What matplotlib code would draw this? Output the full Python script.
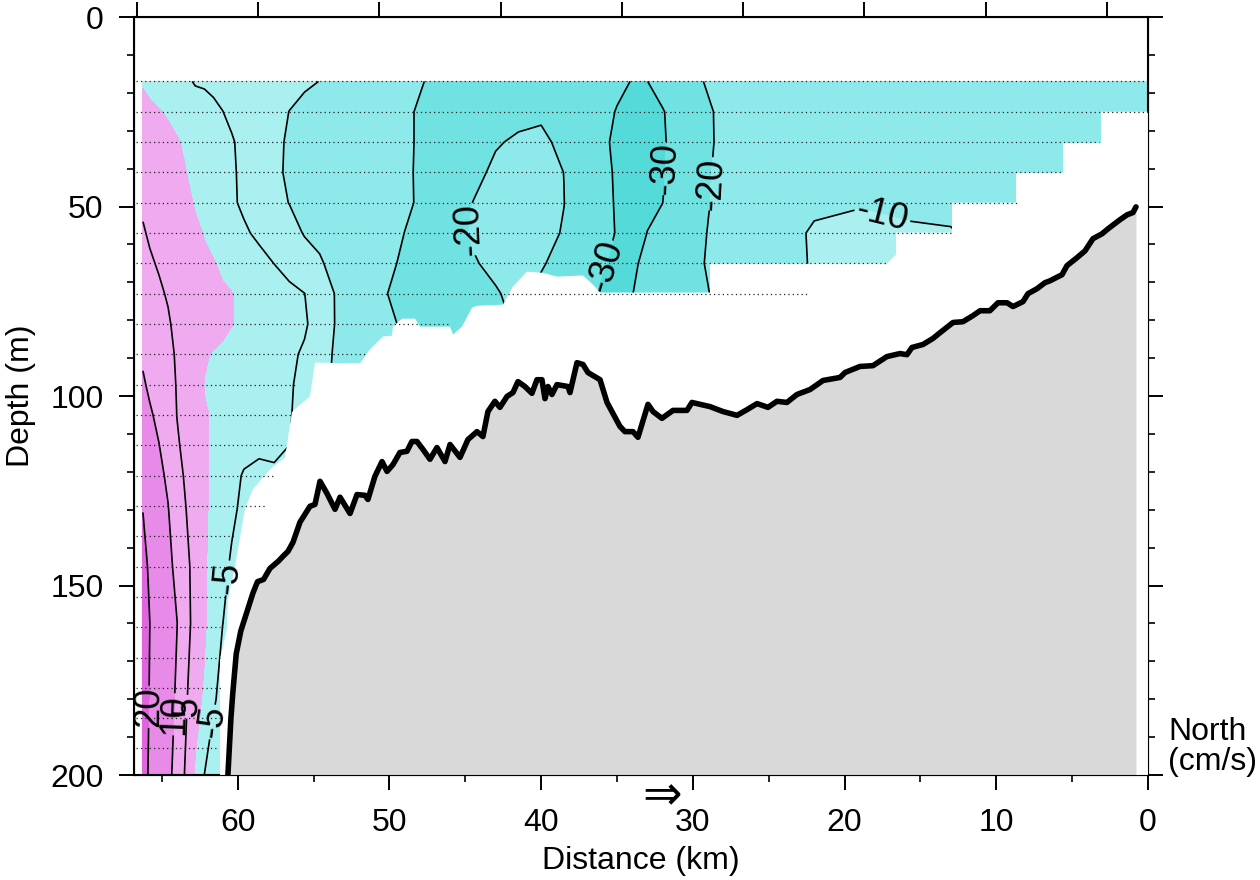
import numpy as np
import matplotlib
matplotlib.use("Agg")
import matplotlib.pyplot as plt
import matplotlib.transforms as mtransforms

plt.rcParams['font.family'] = ['Liberation Sans', 'DejaVu Sans']

# ADCP section: northward velocity (cm/s), one profile per station
depth_rows = [17, 25, 33, 41, 49, 57, 65, 73, 81, 89, 97, 105, 113, 121, 130, 145, 160, 180, 200]

station_km = [66.25, 65.8, 65.2, 64.6, 64.0, 63.4, 62.8, 62.2, 61.6, 61.0, 60.4, 59.6,
              58.6, 57.6, 56.6, 55.6, 54.6, 53.4, 52.0, 50.5, 49.0, 47.5, 46.0, 44.5,
              43.0, 41.5, 40.0, 38.5, 37.0, 36.0, 35.0, 34.0, 33.0, 32.0, 31.0, 29.5,
              28.0, 25.0, 22.0, 19.0, 16.0, 13.0, 10.0, 6.0, 3.0, 0.0]

north_profiles = [
    [-0.3, 1, 2, 3.3, 4.5, 5.3, 6, 7, 8, 9.4, 10.5, 12, 14, 17, 19.9, 22, 23, 24, 24],
    [-0.8, 0.6, 1.8, 2.8, 3.8, 4.6, 5.4, 6.3, 7.2, 8.2, 9.3, 10.5, 12, 14, 16, 19, 20.05, 19.5, 18.5],
    [-1.7, 0.2, 1.5, 2.4, 3.2, 3.9, 4.7, 5.5, 6.4, 7.3, 8.2, 9.1, 10.1, 11, 12, 13.5, 14.5, 15, 15],
    [-2.7, -0.4, 1.0, 1.8, 2.6, 3.3, 4.0, 4.7, 5.4, 6.1, 6.8, 7.5, 8.3, 9.3, 10.2, 11, 11.5, 11.6, 11.2],
    [-3.6, -1.15, 0.3, 1.2, 2.0, 2.6, 3.2, 3.7, 4.1, 4.5, 4.7, 4.9, 5.5, 6.3, 7.5, 9.0, 10.05, 9.4, 8.3],
    [-4.2, -1.9, -0.55, 0.05, 0.8, 1.4, 1.9, 2.3, 2.6, 2.8, 3.0, 3.3, 3.8, 4.4, 5.0, 6.0, 6.2, 5.5, 4.2],
    [-5.4, -2.7, -1.4, -0.85, -0.3, 0.6, 1.2, 1.6, 1.8, 1.9, 2.0, 2.1, 2.2, 2.4, 2.7, 3.5, 3.7, 1.4, -0.5],
    [-5.5, -3.5, -2.2, -1.8, -1.35, -0.15, 0.5, 1.3, 1.2, 0.3, -0.1, 0.2, 0.5, 0.6, 0.6, 0.5, 0.6, -0.6, -5.05],
    [-5.9, -4.2, -3.05, -2.7, -2.4, -1.1, 0.2, 0.9, 1.2, -0.2, -0.4, -0.2, -0.5, -0.7, -0.9, -1.5, -2.25, -4.4, -7.5],
    [-6.2, -4.95, -3.9, -3.6, -3.4, -2.1, -0.55, 0.4, 0.7, -0.55, -0.8, -1.0, -1.1, -1.8, -2.6, -3.8, -4.95, -6.5, -9.0],
    [-6.6, -5.7, -4.7, -4.5, -4.4, -3.1, -1.3, 0.1, 0.1, -1.05, -1.3, -1.4, -2.0, -3.2, -4.2, -5.6, -6.3, -7.0],
    [-7.1, -6.6, -5.9, -5.8, -5.7, -4.4, -2.4, -0.8, -0.6, -1.8, -2.2, -2.6, -3.1, -5.5, -6.0, -6.5, -7.0],
    [-7.6, -7.7, -7.5, -7.5, -7.2, -5.8, -3.7, -1.9, -1.6, -2.6, -3.0, -3.3, -4.6, -5.5, -6.0, -6.0],
    [-8.2, -8.8, -9.1, -9.2, -8.7, -7.1, -5.05, -2.9, -2.6, -3.5, -3.8, -4.0, -4.6, -5.3, -5.5],
    [-8.8, -10.05, -10.5, -10.6, -10.1, -8.3, -6.5, -4.0, -3.6, -4.3, -4.7, -4.8, -5.0, -5.2],
    [-9.4, -11.1, -11.6, -11.7, -11.3, -10.3, -7.9, -4.95, -4.5, -5.5, -5.8, -6.0, -6.2],
    [-10.05, -12.4, -12.8, -12.8, -12.5, -11.1, -9.5, -7.5, -6.8, -7.9, -8.3, -8.5],
    [-11.7, -13.9, -14.2, -14.2, -13.9, -13.0, -11.7, -10.6, -10.7, -11.0, -11.2],
    [-13.7, -15.6, -15.8, -15.7, -15.6, -15.2, -14.8, -14.7, -14.8, -15.0, -15.0],
    [-15.9, -17.5, -17.6, -17.6, -17.4, -17.6, -18.5, -19.5, -18.8, -18.5, -18.5],
    [-18.1, -19.3, -19.3, -19.4, -19.2, -20.05, -20.8, -21.5, -20.6, -20.5],
    [-20.3, -21.0, -21.0, -21.0, -21.2, -22.0, -22.5, -23.0, -22.5, -22.0],
    [-21.5, -22.5, -22.8, -23.0, -22.5, -21.8, -22.3, -23.0, -23.3, -23.0],
    [-22.5, -22.5, -22.0, -21.0, -19.95, -19.6, -20.3, -21.5, -22.0, -22.0],
    [-22.0, -21.5, -20.3, -19.3, -18.6, -18.5, -19.2, -20.3, -21.0],
    [-22.0, -21.0, -19.5, -18.0, -17.3, -17.5, -18.2, -19.0, -19.5],
    [-22.0, -20.8, -19.0, -17.8, -17.3, -17.8, -19.6, -21.0],
    [-23.0, -22.5, -21.2, -20.05, -19.9, -20.5, -21.5, -22.0],
    [-26.0, -27.0, -26.5, -25.5, -25.5, -26.0, -27.5, -29.2],
    [-27.5, -28.3, -29.0, -28.9, -28.7, -28.3, -29.7, -30.5],
    [-28.8, -30.3, -31.0, -30.5, -30.4, -30.3, -30.6, -31.5],
    [-30.2, -31.5, -32.5, -32.5, -32.2, -31.5, -30.8, -30.1],
    [-30.05, -31.0, -31.2, -31.2, -30.6, -29.95, -28.8, -28.3],
    [-27.5, -30.4, -30.6, -30.5, -30.05, -28.0, -26.5, -26.0],
    [-24.4, -27.5, -28.1, -27.7, -26.5, -24.5, -23.5, -23.0],
    [-20.3, -22.0, -22.5, -21.6, -21.1, -20.5, -20.3, -21.0],
    [-18.0, -18.5, -18.3, -18.3, -18.5, -18.7, -18.5, -18.5],
    [-16.0, -16.0, -16.0, -15.5, -15.0, -14.5, -14.0, -14.0],
    [-15.0, -15.0, -14.5, -13.5, -11.5, -9.0, -9.3, -9.5],
    [-14.5, -14.5, -14.0, -12.5, -10.3, -8.8, -8.5, -8.5],
    [-14.5, -14.5, -14.0, -12.8, -11.0, -9.3, -9.0, -9.0],
    [-14.5, -14.5, -14.0, -13.0, -11.5, -9.6],
    [-14.5, -14.5, -14.0, -13.5, -13.0, -12.5],
    [-15.0, -15.0, -14.5, -14.0, -14.0],
    [-15.5, -15.5, -15.0, -15.0],
    [-16.0, -16.0, -16.0],
]

# lower limit of good ADCP data (km, m)
data_edge_km = [61.17, 61.17, 60.71, 60.65, 60.18, 59.53, 59.00, 57.88, 56.89, 56.43, 56.10,
                55.24, 54.91, 51.94, 51.29, 50.43, 49.84, 49.77, 49.18, 48.32, 47.99, 46.01,
                45.81, 45.22, 44.56, 44.23, 42.52, 41.86, 40.94, 39.88, 38.96, 37.24, 36.59,
                36.12, 28.87, 28.87, 17.21, 16.61, 16.61, 12.92, 12.92, 8.70, 8.70, 5.60,
                5.60, 3.10, 3.10, 0.0]
data_edge_depth = [200, 169.4, 161.5, 153.6, 144.9, 129.9, 124.6, 119.4, 116.2, 104.3, 103.0,
                   100.1, 91.2, 91.4, 87.7, 84.3, 84.1, 81.7, 79.6, 79.6, 81.7, 81.7,
                   83.8, 81.7, 76.7, 76.2, 75.9, 71.1, 67.2, 67.5, 68.5, 68.2, 70.6,
                   72.7, 72.7, 65.1, 65.1, 62.7, 56.9, 56.9, 49.0, 49.0, 41.1, 41.1,
                   33.2, 33.2, 25.0, 25.0]

# bins of the sampled profiles (dotted) and how far to the east each reaches
bin_depth = [17, 25, 33, 41, 49, 57, 65, 73, 81, 89, 97, 105, 113, 121, 129, 137,
             145, 153, 161, 169, 177, 185, 193]
bin_east_end = [0.0, 0.0, 3.2, 5.6, 8.6, 12.9, 17.2, 22.5, 46.0, 51.5, 56.1, 56.4, 56.9,
                57.5, 58.1, 60.2, 60.65, 60.7, 61.2, 61.2, 61.0, 61.2, 61.4]

# bottom topography
seafloor_km = [60.65, 60.45, 60.32, 60.1, 59.8, 59.4, 59.0, 58.7, 58.3, 57.88, 57.3, 57.02,
               56.69, 56.36, 55.90, 55.24, 54.91, 54.58, 54.12, 53.59, 53.26, 52.60, 52.14,
               51.62, 51.42, 50.96, 50.49, 50.16, 49.77, 49.31, 48.85, 48.52, 48.19, 47.79,
               47.33, 46.87, 46.34, 46.01, 45.35, 44.83, 44.23, 43.84, 43.51, 43.05, 42.72,
               42.25, 41.86, 41.53, 41.07, 40.61, 40.28, 39.95, 39.75, 39.55, 39.29, 38.96,
               38.23, 38.10, 37.64, 37.24, 36.92, 36.12, 35.66, 34.81, 34.48, 33.95, 33.62,
               32.96, 32.63, 32.04, 31.31, 30.39, 30.06, 29.53, 28.87, 28.02, 27.09, 26.43,
               25.77, 25.05, 24.46, 23.80, 23.14, 22.28, 21.42, 20.30, 19.97, 18.98, 18.13,
               17.21, 16.35, 15.89, 15.56, 14.83, 14.17, 13.71, 12.85, 12.20, 11.54, 11.07,
               10.42, 9.89, 9.29, 8.90, 8.24, 7.91, 7.32, 6.79, 6.46, 5.67, 5.34, 4.68, 4.15,
               3.63, 3.03, 2.64, 1.85, 1.38, 0.99, 0.79]
seafloor_depth = [200, 185, 178, 168, 162, 157, 152, 149, 148.4, 145.5, 143.5, 142.3,
                  141, 138.6, 133.3, 129.1, 128.6, 122.5, 125.7, 129.9, 126.7, 131.0, 126.0,
                  126.2, 127.3, 121.2, 117.3, 119.9, 118.1, 114.9, 114.6, 112.0, 112.0, 114.1,
                  116.7, 113.6, 117.3, 112.8, 116.2, 111.5, 109.4, 110.7, 104.1, 101.4, 103.0,
                  100.1, 99.1, 96.2, 97.5, 99.3, 95.7, 95.7, 100.7, 97.5, 99.6, 97.0,
                  97.5, 99.1, 91.2, 91.7, 93.8, 95.7, 101.7, 108.0, 109.4, 109.4, 110.9,
                  102.2, 104.1, 105.9, 103.8, 103.8, 101.7, 102.2, 102.8, 104.1, 105.1, 103.6,
                  102.0, 103.0, 101.4, 101.7, 99.6, 98.3, 95.9, 95.1, 93.8, 92.2, 92.0,
                  89.6, 88.8, 89.1, 87.2, 86.4, 84.8, 83.3, 80.6, 80.4, 78.8, 77.5,
                  77.5, 75.4, 75.4, 76.4, 75.1, 73.0, 71.7, 70.1, 69.6, 68.0, 65.6, 63.5, 61.7,
                  58.5, 57.2, 55.9, 53.5, 52.2, 51.6, 50.1]

fill_levels = [-100, -30, -20, -10, 0, 10, 20, 100]
fill_colors = ['#55dada', '#70e2e2', '#8eeaea', '#aaf0f0', '#f0aaf0', '#e88ae8', '#e066e0']
line_levels = [-30, -20, -10, -5, 5, 10, 20]
label_spots = [(44.9, 56), (31.6, 40), (29.0, 44), (35.6, 66), (17.5, 52),
               (60.7, 148), (61.7, 186), (63.3, 182), (64.2, 184), (65.85, 182)]
top_tick_km = [66.65, 58.67, 50.69, 42.65, 34.67, 26.70, 18.72, 10.68, 2.70]

# build the grid (pad short profiles with NaN)
nrow = len(depth_rows)
grid = np.full((nrow, len(station_km)), np.nan)
for j, prof in enumerate(north_profiles):
    grid[:len(prof), j] = prof
x = np.array(station_km)[::-1]
z = np.ma.masked_invalid(grid[:, ::-1])

fig = plt.figure(figsize=(12.6, 8.8), dpi=100)
ax = fig.add_axes([134 / 1260, 1 - 775 / 880, 1014 / 1260, 758 / 880])

ax.contourf(x, depth_rows, z, levels=fill_levels, colors=fill_colors, zorder=1)
cs = ax.contour(x, depth_rows, z, levels=line_levels, colors='k', linewidths=1.2,
                linestyles='solid', zorder=2)
labels = ax.clabel(cs, manual=label_spots, inline=True, fmt='%d', fontsize=26,
                   inline_spacing=3)
# labels on near-vertical lines read upwards, like the original
for t in labels:
    r = t.get_rotation() % 360
    if 200 < r < 340:
        t.set_rotation(r - 180)

# blank out below the good data
ax.fill(data_edge_km + [0.0], data_edge_depth + [200.0], color='white', lw=0, zorder=3)

for d, xe in zip(bin_depth, bin_east_end):
    ax.plot([66.7, xe], [d, d], color='#222222', lw=0.9, ls=(0, (1, 2.5)), zorder=4)

ax.fill_between(seafloor_km, seafloor_depth, 200, color='#d9d9d9', lw=0, zorder=5)
ax.plot(seafloor_km, seafloor_depth, color='k', lw=4.0, solid_joinstyle='round',
        solid_capstyle='round', zorder=6)

ax.set_xlim(66.84, 0)
ax.set_ylim(200, 0)
ax.set_xticks(range(0, 61, 10))
ax.set_xticks(range(5, 66, 10), minor=True)
ax.set_yticks(range(0, 201, 50))
ax.set_yticks(range(0, 201, 10), minor=True)
ax.tick_params(which='major', direction='out', length=10.8, width=1.4, labelsize=23,
               right=True, top=False)
ax.tick_params(which='minor', direction='out', length=5, width=1.2, right=True, top=False)
ax.tick_params(axis='x', which='major', pad=13)
ax.tick_params(axis='y', which='major', pad=11)
for sp in ax.spines.values():
    sp.set_linewidth(1.5)

top = ax.twiny()
top.set_xlim(ax.get_xlim())
top.set_xticks(top_tick_km)
top.set_xticklabels([])
top.tick_params(direction='out', length=10.8, width=1.4)

ax.set_xlabel('Distance (km)', fontsize=23, labelpad=6)
ax.set_ylabel('Depth (m)', fontsize=23, labelpad=10)

trans = mtransforms.blended_transform_factory(ax.transData, ax.transAxes)
ax.text(32.0, -0.029, '\u21d2', transform=trans, ha='center', va='center', fontsize=34,
        family=['DejaVu Sans'])
fig.text(1168 / 1260, 1 - 777 / 880, 'North\n(cm/s)', ha='left', va='bottom',
         fontsize=23, linespacing=1.0)

fig.savefig('out.png', dpi=100)
